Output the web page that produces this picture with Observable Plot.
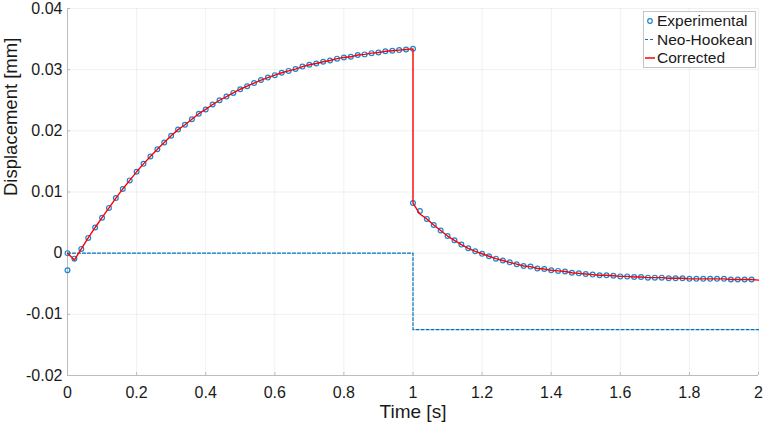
<!DOCTYPE html>
<html>
<head>
<meta charset="utf-8">
<script src="https://cdn.jsdelivr.net/npm/d3@7"></script>
<script src="https://cdn.jsdelivr.net/npm/@observablehq/plot@0.6"></script>
<style>
  html, body { margin: 0; padding: 0; background: #fff; }
  #chart { width: 765px; height: 426px; }
</style>
</head>
<body>
<div id="chart"></div>
<script>
// ---- Data ----
// Sampling grid (s): loading phase 0..1, unloading phase 1..1.98 (experimental) / 1..2 (corrected)
const riseTime = d3.range(51).map(i => +(i * 0.02).toFixed(2));
const decayTime = d3.range(50).map(i => +(1 + i * 0.02).toFixed(2));
const decayTimeCorrected = d3.range(51).map(i => +(1 + i * 0.02).toFixed(2));

// Experimental displacement [mm]
const expRise = [0, -0.0009, 0.0007, 0.0025, 0.0042, 0.0058, 0.0074, 0.0090, 0.0105, 0.0119,
  0.0133, 0.0146, 0.0158, 0.0170, 0.0181, 0.0192, 0.0202, 0.0210, 0.0219, 0.0228,
  0.0235, 0.0243, 0.0250, 0.0256, 0.0262, 0.0268, 0.0273, 0.0278, 0.0283, 0.0287,
  0.0291, 0.0295, 0.0298, 0.0301, 0.0305, 0.0308, 0.0310, 0.0313, 0.0315, 0.0318,
  0.0320, 0.0321, 0.0324, 0.0325, 0.0327, 0.0328, 0.0330, 0.0331, 0.0332, 0.0333, 0.0334];
const expDecay = [0.0082, 0.0069, 0.0056, 0.0046, 0.0037, 0.0028, 0.0021, 0.0014, 0.0008, 0.0003,
  -0.0001, -0.0005, -0.0009, -0.0012, -0.0015, -0.0018, -0.0021, -0.0022, -0.0025, -0.0026,
  -0.0028, -0.0029, -0.0030, -0.0032, -0.0033, -0.0034, -0.0035, -0.0036, -0.0036, -0.0037,
  -0.0038, -0.0038, -0.0039, -0.0039, -0.0040, -0.0040, -0.0040, -0.0041, -0.0041, -0.0041,
  -0.0042, -0.0042, -0.0042, -0.0042, -0.0042, -0.0042, -0.0043, -0.0043, -0.0043, -0.0043];
// Extra experimental sample at t = 0
const expExtraTime = [0];
const expExtraDisp = [-0.0028];

// Corrected model [mm]
const corrRise = [0, -0.0011, 0.0007, 0.0025, 0.0042, 0.0058, 0.0074, 0.0090, 0.0105, 0.0119,
  0.0133, 0.0146, 0.0158, 0.0170, 0.0181, 0.0192, 0.0202, 0.0210, 0.0219, 0.0228,
  0.0235, 0.0243, 0.0250, 0.0256, 0.0262, 0.0268, 0.0273, 0.0278, 0.0283, 0.0287,
  0.0291, 0.0295, 0.0298, 0.0301, 0.0305, 0.0308, 0.0310, 0.0313, 0.0315, 0.0318,
  0.0320, 0.0321, 0.0324, 0.0325, 0.0327, 0.0328, 0.0330, 0.0331, 0.0332, 0.0333, 0.0334];
const corrDecay = [0.0082, 0.0064, 0.0056, 0.0046, 0.0037, 0.0028, 0.0021, 0.0014, 0.0008, 0.0003,
  -0.0001, -0.0005, -0.0009, -0.0012, -0.0015, -0.0018, -0.0021, -0.0022, -0.0025, -0.0026,
  -0.0028, -0.0029, -0.0030, -0.0032, -0.0033, -0.0034, -0.0035, -0.0036, -0.0036, -0.0037,
  -0.0038, -0.0038, -0.0039, -0.0039, -0.0040, -0.0040, -0.0040, -0.0041, -0.0041, -0.0041,
  -0.0042, -0.0042, -0.0042, -0.0042, -0.0042, -0.0042, -0.0043, -0.0043, -0.0043, -0.0043, -0.0044];

// Neo-Hookean model [mm]
const neoTime = [0, 1, 1, 2];
const neoDisp = [0, 0, -0.0125, -0.0125];

// Ticks
const xTicks = [0, 0.2, 0.4, 0.6, 0.8, 1, 1.2, 1.4, 1.6, 1.8, 2];
const yTicks = [-0.02, -0.01, 0, 0.01, 0.02, 0.03, 0.04];

// Legend labels
const seriesNames = ["Experimental", "Neo-Hookean", "Corrected"];

// ---- Build tables ----
const experimental = [
  ...riseTime.map((t, i) => ({t, v: expRise[i]})),
  ...expExtraTime.map((t, i) => ({t, v: expExtraDisp[i]})),
  ...decayTime.map((t, i) => ({t, v: expDecay[i]}))
];
const corrected = [
  ...riseTime.map((t, i) => ({t, v: corrRise[i]})),
  ...decayTimeCorrected.map((t, i) => ({t, v: corrDecay[i]}))
];
const neo = neoTime.map((t, i) => ({t, v: neoDisp[i]}));

const fmtX = d => String(Math.round(d * 10) / 10);
const fmtY = d => String(Math.round(d * 100) / 100);

const axisColor = "#bcbcbc";
const blue = "#0072BD";
const markerBlue = "#1a86d0";

const plot = Plot.plot({
  width: 765,
  height: 426,
  marginLeft: 67,
  marginRight: 7,
  marginTop: 8,
  marginBottom: 51,
  style: {fontFamily: "'Liberation Sans', Arial, Helvetica, sans-serif", fontSize: "16px", color: "#1a1a1a", background: "#fff"},
  x: {domain: [0, 2]},
  y: {domain: [-0.02, 0.04]},
  marks: [
    Plot.gridX(xTicks, {stroke: "#000", strokeOpacity: 0.06}),
    Plot.gridY(yTicks, {stroke: "#000", strokeOpacity: 0.06}),
    Plot.ruleY([-0.02], {stroke: axisColor}),
    Plot.ruleX([0], {stroke: axisColor}),
    Plot.ruleX(xTicks, {x: d => d, y1: -0.02, y2: -0.02 + 0.0005, stroke: axisColor}),
    Plot.ruleY(yTicks, {y: d => d, x1: 0, x2: 0.009, stroke: axisColor}),
    Plot.axisX(xTicks, {tickSize: 0, tickPadding: 11, tickFormat: fmtX, label: null, fontSize: 16}),
    Plot.axisY(yTicks, {tickSize: 0, tickPadding: 5, tickFormat: fmtY, label: null, fontSize: 16}),
    Plot.text(["Time [s]"], {text: d => d, frameAnchor: "bottom", dy: 36, fontSize: 19, lineAnchor: "middle"}),
    Plot.text(["Displacement [mm]"], {text: d => d, frameAnchor: "left", dx: -56, dy: 4, rotate: -90, fontSize: 18.5, lineAnchor: "middle"}),
    Plot.line(neo, {x: "t", y: "v", stroke: blue, strokeWidth: 1.2, strokeDasharray: "3,2"}),
    Plot.dot(experimental, {x: "t", y: "v", r: 2.4, stroke: markerBlue, strokeWidth: 1.2, fill: "none"}),
    Plot.line(corrected, {x: "t", y: "v", stroke: "#ff0000", strokeWidth: 1.4})
  ]
});

document.getElementById("chart").appendChild(plot);

// ---- Legend (inside the axes, top-right) ----
const svg = d3.select(plot);
const lg = svg.append("g")
  .attr("font-family", "'Liberation Sans', Arial, Helvetica, sans-serif")
  .attr("font-size", 15.5)
  .attr("text-anchor", "start");
lg.append("rect").attr("x", 643.5).attr("y", 11.5).attr("width", 112).attr("height", 56)
  .attr("fill", "#fff").attr("stroke", "#c4c4c4").attr("stroke-width", 1);
const rowY = [21, 39.5, 58];
// Experimental symbol
lg.append("circle").attr("cx", 650).attr("cy", rowY[0]).attr("r", 2.3)
  .attr("fill", "none").attr("stroke", markerBlue).attr("stroke-width", 1.2);
// Neo-Hookean symbol
lg.append("line").attr("x1", 645).attr("x2", 655).attr("y1", rowY[1]).attr("y2", rowY[1])
  .attr("stroke", blue).attr("stroke-width", 1.2).attr("stroke-dasharray", "3,2");
// Corrected symbol
lg.append("line").attr("x1", 645).attr("x2", 655).attr("y1", rowY[2]).attr("y2", rowY[2])
  .attr("stroke", "#ff0000").attr("stroke-width", 1.5);
seriesNames.forEach((name, i) => {
  lg.append("text").attr("x", 657).attr("y", rowY[i]).attr("dy", "0.35em")
    .attr("text-anchor", "start")
    .attr("fill", "#1a1a1a").text(name);
});
</script>
</body>
</html>
